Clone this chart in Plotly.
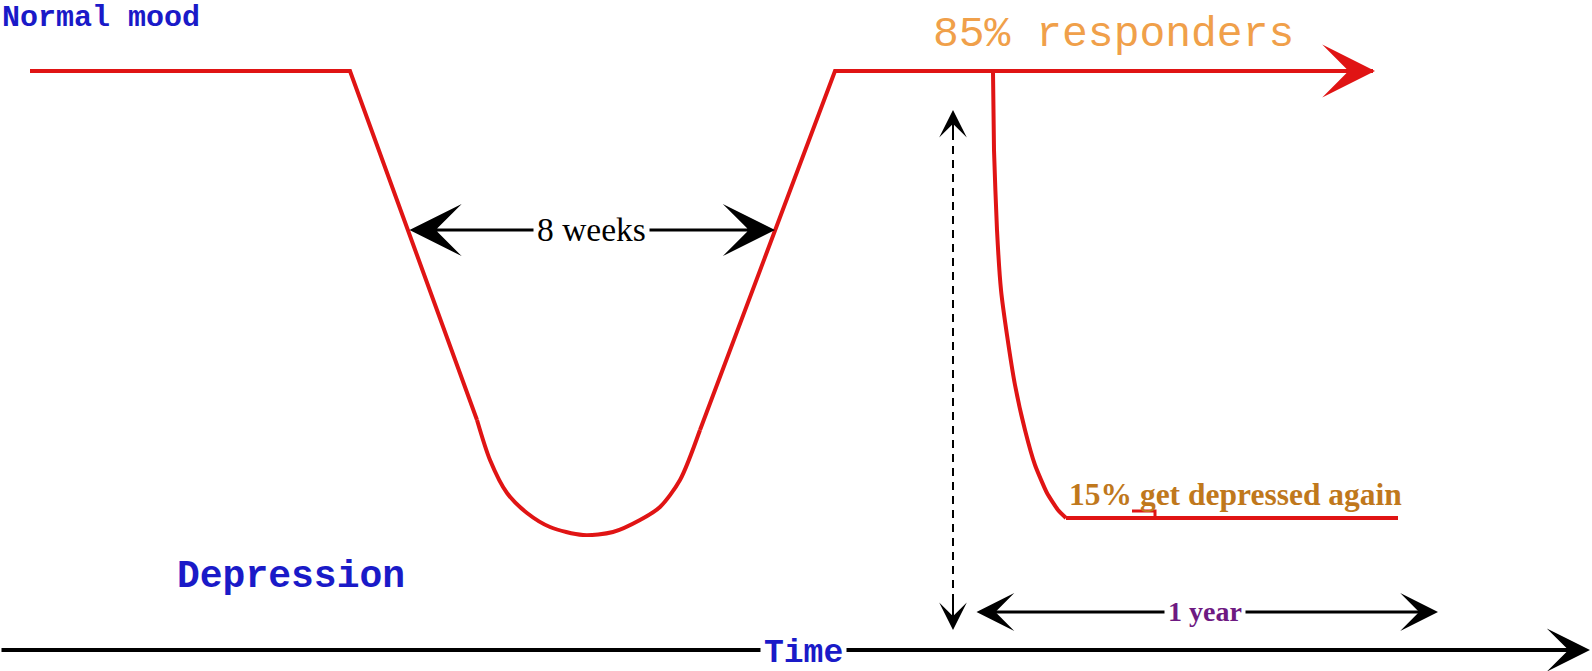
import plotly.graph_objects as go

# ---- data (diagram coordinates, pixel-like units, y grows downward) ----
mood_x = [30, 350, 477, 490, 507, 527, 550, 583, 613, 640, 660, 680, 700, 835, 1373]
mood_y = [71, 71, 420, 460, 493, 513, 527, 535, 532, 520, 507, 480, 430, 71, 71]
BOWL = slice(2, 13)   # indices of the rounded bottom of the episode

relapse_x = [993, 994, 997, 1001, 1007, 1015, 1025, 1035, 1047, 1058, 1066, 1398]
relapse_y = [72, 150, 230, 290, 335, 385, 430, 465, 493, 510, 518, 518]
DROP = slice(0, 11)   # indices of the curved relapse drop

tick_x = [1132, 1155, 1155]
tick_y = [511, 511, 516]

weeks_span = [408, 775]   # x extent of the "8 weeks" arrow
weeks_y = 230
year_span = [975, 1438]   # x extent of the "1 year" arrow
year_y = 612
time_span = [0, 1590]
time_y = 650
resp_x = 953
resp_span = [110, 630]

RED = "#e01414"
BLUE = "#1a1ac8"
MONO = "Liberation Mono"
SERIF = "Liberation Serif"

fig = go.Figure()
# straight parts
fig.add_trace(go.Scatter(x=mood_x[:3], y=mood_y[:3], mode="lines",
                         line=dict(color=RED, width=4), hoverinfo="skip"))
fig.add_trace(go.Scatter(x=mood_x[12:], y=mood_y[12:], mode="lines",
                         line=dict(color=RED, width=4), hoverinfo="skip"))
# rounded bottom
fig.add_trace(go.Scatter(x=mood_x[BOWL], y=mood_y[BOWL], mode="lines",
                         line=dict(color=RED, width=4, shape="spline", smoothing=0.8),
                         hoverinfo="skip"))
# relapse drop (curved) and flat part
fig.add_trace(go.Scatter(x=relapse_x[DROP], y=relapse_y[DROP], mode="lines",
                         line=dict(color=RED, width=4, shape="spline", smoothing=0.5),
                         hoverinfo="skip"))
fig.add_trace(go.Scatter(x=relapse_x[10:], y=relapse_y[10:], mode="lines",
                         line=dict(color=RED, width=4), hoverinfo="skip"))
fig.add_trace(go.Scatter(x=tick_x, y=tick_y, mode="lines",
                         line=dict(color=RED, width=3), hoverinfo="skip"))

# dashed vertical line
fig.add_shape(type="line", x0=resp_x, x1=resp_x, y0=resp_span[0] + 8, y1=resp_span[1] - 8,
              line=dict(color="black", width=2, dash="8px,6px"))

anns = []
def arrow(x, y, ax, ay, color, width, size, both=False):
    d = dict(x=x, y=y, ax=ax, ay=ay, xref="x", yref="y", axref="x", ayref="y",
             text="", showarrow=True, arrowhead=3, arrowsize=size, arrowwidth=width,
             arrowcolor=color)
    if both:
        d.update(arrowside="end+start", startarrowhead=3, startarrowsize=size)
    anns.append(d)

# red continuation arrow
arrow(mood_x[-1] + 2, mood_y[-1], mood_x[-1] - 80, mood_y[-1], RED, 4, 2.2)
# 8 weeks arrow
arrow(weeks_span[1], weeks_y, weeks_span[0], weeks_y, "black", 3, 2.9, both=True)
# 1 year arrow
arrow(year_span[1], year_y, year_span[0], year_y, "black", 3, 2.1, both=True)
# time axis
arrow(time_span[1], time_y, time_span[0], time_y, "black", 4, 1.8)
# dashed arrow heads
arrow(resp_x, resp_span[0], resp_x, resp_span[0] + 30, "black", 2, 2.3)
arrow(resp_x, resp_span[1], resp_x, resp_span[1] - 30, "black", 2, 2.3)

def label(text, x, y, size, color, family, bold=False, bg=None, pad=1, xanchor="center"):
    t = f"<b>{text}</b>" if bold else text
    d = dict(x=x, y=y, xref="x", yref="y", text=t, showarrow=False,
             xanchor=xanchor, yanchor="middle",
             font=dict(size=size, color=color, family=family), borderpad=pad)
    if bg:
        d["bgcolor"] = bg
    anns.append(d)

label("Normal mood", 1, 18, 30, BLUE, MONO, bold=True, xanchor="left", pad=0)
label("85% responders", 1113, 34, 43, "#f0a04a", MONO)
label("Depression", 291, 576, 38, BLUE, MONO, bold=True)
label("Time", 803, 653, 33, BLUE, MONO, bold=True, bg="white", pad=3)
label("8 weeks", 591, 229, 33.5, "black", SERIF, bg="white", pad=3)
label("1 year", 1205, 611, 28, "#6e1a82", SERIF, bold=True, bg="white", pad=3)
label("15% get depressed again", 1235, 494, 31.5, "#c0781c", SERIF, bold=True)

fig.update_layout(
    width=1592, height=671, margin=dict(l=0, r=0, t=0, b=0),
    paper_bgcolor="white", plot_bgcolor="white", showlegend=False,
    annotations=anns,
    xaxis=dict(range=[0, 1592], visible=False, fixedrange=True),
    yaxis=dict(range=[671, 0], visible=False, fixedrange=True),
)
fig.write_html("out.html", config={"displayModeBar": False},
               post_script="document.body.style.margin='0';document.body.style.overflow='hidden';")
